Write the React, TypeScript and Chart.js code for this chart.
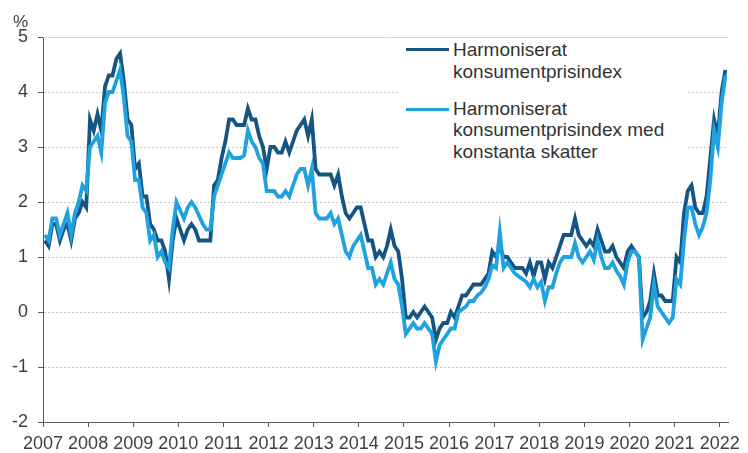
import { useEffect, useRef } from "react";
import { Chart, registerables } from "chart.js";

Chart.register(...registerables);

// Tick labels (one per year, January)
const yearLabels = [
  "2007", "2008", "2009", "2010", "2011", "2012", "2013", "2014",
  "2015", "2016", "2017", "2018", "2019", "2020", "2021", "2022",
];
const yMin = -2;
const yMax = 5;
const unitLabel = "%";

// Legend texts (multi-line)
const hicpLabel = ["Harmoniserat", "konsumentprisindex"];
const hicpConstLabel = ["Harmoniserat", "konsumentprisindex med", "konstanta skatter"];

const hicpColor = "#145583";
const hicpConstColor = "#1fa2e0";

// Monthly annual change, %, Jan 2007 – Feb 2022
const hicp = [
  1.3, 1.2, 1.6, 1.6, 1.3, 1.5, 1.6, 1.3, 1.7, 1.8, 2.0, 1.9,
  3.5, 3.3, 3.6, 3.3, 4.1, 4.3, 4.3, 4.6, 4.7, 4.2, 3.5, 3.4,
  2.6, 2.7, 2.1, 2.1, 1.6, 1.5, 1.3, 1.3, 1.1, 0.6, 1.3, 1.7,
  1.5, 1.3, 1.5, 1.6, 1.5, 1.3, 1.3, 1.3, 1.3, 2.3, 2.4, 2.8,
  3.1, 3.5, 3.5, 3.4, 3.4, 3.4, 3.7, 3.5, 3.5, 3.2, 3.0, 2.6,
  3.0, 3.0, 2.9, 2.9, 3.1, 2.9, 3.1, 3.3, 3.4, 3.5, 3.2, 3.5,
  2.6, 2.5, 2.5, 2.5, 2.5, 2.3, 2.5, 2.1, 1.8, 1.7, 1.8, 1.9,
  1.9, 1.6, 1.3, 1.3, 1.0, 1.1, 1.0, 1.2, 1.5, 1.2, 1.1, 0.6,
  -0.1, -0.1, 0.0, -0.1, 0.0, 0.1, 0.0, -0.1, -0.5, -0.3, -0.2, -0.2,
  0.0, -0.1, 0.1, 0.3, 0.3, 0.4, 0.5, 0.5, 0.5, 0.6, 0.7, 1.1,
  1.0, 1.2, 1.0, 1.0, 0.9, 0.8, 0.8, 0.8, 0.7, 0.9, 0.65, 0.9,
  0.9, 0.6, 0.9, 0.8, 1.0, 1.2, 1.4, 1.4, 1.4, 1.7, 1.4, 1.3,
  1.2, 1.3, 1.2, 1.5, 1.3, 1.1, 1.1, 1.2, 1.0, 0.9, 0.8, 1.1,
  1.2, 1.1, 1.0, -0.1, 0.0, 0.2, 0.7, 0.3, 0.3, 0.2, 0.2, 0.2,
  1.0, 0.9, 1.8, 2.2, 2.3, 1.9, 1.8, 1.8, 2.1, 2.8, 3.5, 3.2,
  4.0, 4.4,
];

const hicpConstantTaxes = [
  1.4, 1.3, 1.7, 1.7, 1.4, 1.6, 1.8, 1.4, 1.8, 2.0, 2.3, 2.2,
  3.0, 3.1, 3.2, 2.9, 3.8, 4.0, 4.0, 4.2, 4.4, 3.9, 3.2, 3.1,
  2.4, 2.4, 1.9, 1.8, 1.3, 1.4, 1.0, 1.1, 0.9, 0.8, 1.5, 2.0,
  1.85, 1.7, 1.9, 2.0, 1.9, 1.75, 1.6, 1.5, 1.5, 2.1, 2.3, 2.5,
  2.7, 2.9, 2.8, 2.8, 2.8, 2.85, 3.3, 3.1, 3.0, 2.8, 2.7, 2.2,
  2.2, 2.2, 2.1, 2.1, 2.2, 2.1, 2.3, 2.5, 2.6, 2.6, 2.3, 2.6,
  1.8, 1.7, 1.7, 1.7, 1.8, 1.6, 1.7, 1.4, 1.1, 1.0, 1.2, 1.3,
  1.4, 1.1, 0.8, 0.8, 0.5, 0.6, 0.5, 0.7, 0.9, 0.6, 0.5, 0.1,
  -0.4, -0.3, -0.2, -0.3, -0.3, -0.2, -0.3, -0.4, -0.9, -0.6, -0.5, -0.4,
  -0.3, -0.3, 0.0, 0.05, 0.1, 0.2, 0.2, 0.3, 0.35, 0.45, 0.6, 0.85,
  0.8, 1.45, 0.8, 0.9, 0.8, 0.7, 0.65, 0.6, 0.55, 0.45, 0.6, 0.45,
  0.55, 0.2, 0.45, 0.45, 0.7, 0.9, 1.0, 1.0, 1.0, 1.25, 1.0, 0.9,
  1.0, 1.1, 0.95, 1.3, 1.0, 0.8, 0.8, 0.9, 0.75, 0.65, 0.5, 0.9,
  1.1, 1.1, 1.0, -0.5, -0.3, -0.1, 0.5, 0.1, 0.0, -0.1, -0.2, -0.1,
  0.6, 0.5, 1.3, 1.9, 1.9, 1.6, 1.4, 1.55, 1.8, 2.4, 3.3, 3.0,
  3.8, 4.3,
];

const FONT = '"Liberation Sans", Arial, Helvetica, sans-serif';
const TEXT = "#404040";

const toPoints = (arr: number[]) => arr.map((v, i) => ({ x: i + 0.5, y: v }));

const topLinePlugin = {
  id: "topLine",
  beforeDatasetsDraw(chart: any) {
    const { ctx, chartArea, scales } = chart;
    const py = Math.round(scales.y.getPixelForValue(yMax)) + 0.5;
    ctx.save();
    ctx.strokeStyle = "#d9d9d9";
    ctx.lineWidth = 1;
    ctx.beginPath();
    ctx.moveTo(chartArea.left, py);
    ctx.lineTo(chartArea.right, py);
    ctx.stroke();
    ctx.restore();
  },
};

export default function App() {
  const canvasRef = useRef<HTMLCanvasElement | null>(null);

  useEffect(() => {
    document.body.style.margin = "0";
    const canvas = canvasRef.current;
    if (!canvas) return;
    const chart = new Chart(canvas, {
      type: "line",
      data: {
        datasets: [
          {
            label: hicpLabel.join(" "),
            data: toPoints(hicp),
            borderColor: hicpColor,
            backgroundColor: hicpColor,
            borderWidth: 3.8,
            pointRadius: 0,
            tension: 0,
            order: 1,
          },
          {
            label: hicpConstLabel.join(" "),
            data: toPoints(hicpConstantTaxes),
            borderColor: hicpConstColor,
            backgroundColor: hicpConstColor,
            borderWidth: 3.8,
            pointRadius: 0,
            tension: 0,
            order: 0,
          },
        ],
      },
      options: {
        animation: false,
        responsive: false,
        devicePixelRatio: 1,
        layout: { padding: { top: 37, right: 20, left: 0, bottom: 0 } },
        plugins: {
          legend: { display: false },
          tooltip: { enabled: false },
        },
        scales: {
          x: {
            type: "linear",
            min: 0,
            max: 182.2,
            afterBuildTicks: (scale: any) => {
              scale.ticks = yearLabels.map((_, k) => ({ value: k * 12 }));
            },
            afterFit: (scale: any) => {
              scale.height = 31;
            },
            grid: {
              drawOnChartArea: false,
              drawTicks: true,
              tickLength: 5,
              tickColor: "#595959",
              color: "#595959",
            },
            border: { display: true, color: "#595959", width: 1 },
            ticks: {
              autoSkip: false,
              maxRotation: 0,
              minRotation: 0,
              padding: 6,
              color: TEXT,
              font: { family: FONT, size: 18 },
              callback: (v: any) => {
                const k = Math.round(Number(v) / 12);
                return yearLabels[k] ?? "";
              },
            },
          },
          y: {
            min: yMin,
            max: yMax,
            afterFit: (scale: any) => {
              scale.width = 43;
            },
            grid: {
              drawTicks: true,
              tickLength: 5,
              tickColor: "#595959",
              color: (c: any) =>
                c.tick && (c.tick.value === yMin || c.tick.value === yMax)
                  ? "rgba(0,0,0,0)"
                  : "#c4c4c4",
            },
            border: { display: true, color: "#595959", width: 1, dash: [2, 2] },
            ticks: {
              stepSize: 1,
              padding: 10,
              color: TEXT,
              font: { family: FONT, size: 18 },
            },
          },
        },
      },
      plugins: [topLinePlugin],
    });
    return () => chart.destroy();
  }, []);

  const textStyle: any = {
    position: "absolute",
    left: 55,
    fontFamily: FONT,
    fontSize: 19,
    lineHeight: "21.5px",
    color: "#333",
    whiteSpace: "nowrap",
  };

  return (
    <div style={{ position: "relative", width: 748, height: 453, background: "#fff" }}>
      <canvas ref={canvasRef} width={748} height={453} style={{ position: "absolute", left: 0, top: 0 }} />
      <div
        style={{
          position: "absolute",
          left: 13,
          top: 13,
          fontFamily: FONT,
          fontSize: 17,
          lineHeight: "17px",
          color: TEXT,
        }}
      >
        {unitLabel}
      </div>
      <div
        style={{
          position: "absolute",
          left: 398,
          top: 38,
          width: 289,
          height: 137,
          background: "#fff",
        }}
      >
        <div style={{ position: "absolute", left: 8, top: 9.5, width: 43, height: 3.5, background: hicpColor }} />
        <div style={{ ...textStyle, top: 1.3 }}>
          {hicpLabel.map((t) => (
            <div key={t}>{t}</div>
          ))}
        </div>
        <div style={{ position: "absolute", left: 8, top: 69.5, width: 43, height: 3.5, background: hicpConstColor }} />
        <div style={{ ...textStyle, top: 59.6 }}>
          {hicpConstLabel.map((t) => (
            <div key={t}>{t}</div>
          ))}
        </div>
      </div>
    </div>
  );
}
